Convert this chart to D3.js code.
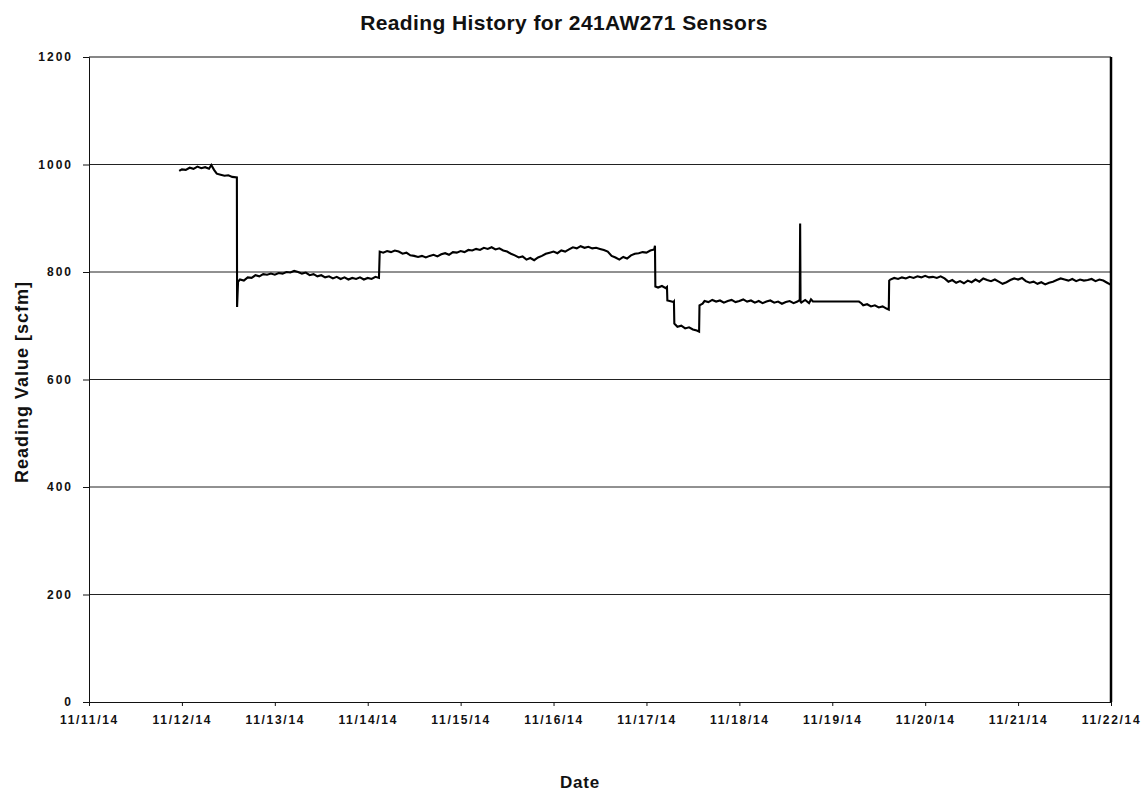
<!DOCTYPE html>
<html><head><meta charset="utf-8">
<script src="https://cdn.jsdelivr.net/npm/d3@7"></script>
<style>
html,body{margin:0;padding:0;background:#fff;}
text{font-family:"Liberation Sans",Arial,sans-serif;font-weight:bold;fill:#111;}
</style></head>
<body><svg id="c" width="1148" height="796"></svg>
<script>
const titleText = "Reading History for 241AW271 Sensors";
const xTitle = "Date";
const yTitle = "Reading Value [scfm]";
const yTicks = [0, 200, 400, 600, 800, 1000, 1200];
const xTickLabels = ["11/11/14","11/12/14","11/13/14","11/14/14","11/15/14","11/16/14","11/17/14","11/18/14","11/19/14","11/20/14","11/21/14","11/22/14"];
const startDate = "2014-11-11T00:00";
const endDate = "2014-11-22T00:00";
// hours since 11/11/14 00:00
const hours = [
 23.3,24,25,26,27,28,29,30,31,31.6,32.3,33,34,35,36,37,38.2,
 38.25,38.5,39,40,41,42,43,44,45,46,47,48,49,50,51,52,53,54,55,56,57,58,59,60,61,62,63,64,65,66,67,68,69,70,71,72,73,74,74.9,
 75.1,76,77,78,79,80,81,82,83,84,85,86,87,88,89,90,91,92,93,94,95,96,97,98,99,100,101,102,103,104,105,106,107,108,109,110,111,112,113,114,115,116,117,118,119,120,121,122,123,124,125,126,127,128,129,130,131,132,133,134,135,136,137,138,139,140,141,142,143,144,145,146,146.2,
 146.3,147,148,149,149.3,149.4,150,151,151.1,
 151.2,152,153,154,155,156,157,157.6,
 157.7,158.5,159,160,161,162,163,164,165,166,167,168,169,170,171,172,173,174,175,176,177,178,179,180,181,182,183,183.6,183.7,183.8,184,185,186,186.5,
 187,198.9,199.5,200,201,202,203,204,205,206,206.6,
 206.7,207,208,209,210,211,212,213,214,215,216,217,218,219,220,221,222,223,224,225,226,227,228,229,230,231,232,233,234,235,236,237,238,239,240,241,242,243,244,245,246,247,248,249,250,251,252,253,254,255,256,257,258,259,260,261,262,263,264
];
const values = [
 988,991,990,994,992,996,993,995,992,999,990,983,981,979,980,977,976,
 735,782,786,784,790,789,794,792,796,795,797,795,798,797,800,799,802,800,797,799,794,796,792,794,790,792,788,791,787,790,786,789,787,790,786,789,787,791,789,
 838,836,839,837,840,838,834,836,831,830,828,830,827,830,832,829,833,835,832,837,836,839,837,841,840,843,841,845,843,846,842,844,840,838,834,831,827,829,823,826,822,827,830,834,836,838,835,840,838,842,846,844,848,845,847,844,845,843,841,838,830,827,823,828,825,831,834,835,837,836,840,842,849,
 773,771,774,770,772,747,746,744,745,
 704,698,700,695,697,693,691,689,
 738,741,746,744,748,745,747,743,746,748,744,746,749,745,747,743,746,742,745,747,743,745,741,744,746,742,745,748,890,745,743,748,742,749,
 745,745,742,738,740,736,738,734,736,732,730,
 784,786,789,787,790,788,791,789,792,790,793,790,791,789,792,788,782,785,780,783,779,784,781,786,782,788,785,783,786,782,778,781,785,788,786,789,783,780,782,778,781,777,780,782,785,788,786,784,787,783,786,784,785,787,783,786,784,780,776
];

const W = 1148, H = 796;
const m = {left: 89, right: 1111, top: 57, bottom: 702};
const svg = d3.select("#c");
const t0 = new Date(startDate), t1 = new Date(endDate);
const x = d3.scaleTime().domain([t0, t1]).range([m.left, m.right]);
const y = d3.scaleLinear().domain([0, 1200]).range([m.bottom, m.top]);
const data = hours.map((h, i) => ({t: new Date(t0.getTime() + h * 3600e3), v: values[i]}));

// gridlines
svg.append("g").selectAll("line").data(yTicks.filter(v => v > 0 && v < 1200)).join("line")
  .attr("x1", m.left).attr("x2", m.right).attr("y1", d => y(d)).attr("y2", d => y(d))
  .attr("stroke", "#222").attr("stroke-width", 1);
// top border
svg.append("line").attr("x1", m.left).attr("x2", m.right).attr("y1", y(1200)).attr("y2", y(1200)).attr("stroke", "#111").attr("stroke-width", 1.2);
// right border
svg.append("line").attr("x1", m.right).attr("x2", m.right).attr("y1", m.top).attr("y2", m.bottom).attr("stroke", "#000").attr("stroke-width", 2.5);

// y axis
const yAxis = d3.axisLeft(y).tickValues(yTicks).tickSize(6).tickPadding(10).tickFormat(d3.format("d"));
const gy = svg.append("g").attr("transform", `translate(${m.left},0)`).call(yAxis);
gy.select(".domain").attr("stroke", "#111");
gy.selectAll(".tick line").attr("stroke", "#111");
gy.selectAll("text").attr("font-size", 12).attr("letter-spacing", "2px").attr("font-family", "Liberation Sans, Arial").attr("font-weight", "bold").attr("fill", "#111");

// x axis
const xTickDates = xTickLabels.map((_, i) => d3.timeDay.offset(t0, i));
const xAxis = d3.axisBottom(x).tickValues(xTickDates).tickSize(4).tickPadding(9).tickFormat((d, i) => xTickLabels[i]);
const gx = svg.append("g").attr("transform", `translate(0,${m.bottom})`).call(xAxis);
gx.select(".domain").attr("stroke", "#111");
gx.selectAll(".tick line").attr("stroke", "#111");
gx.selectAll("text").attr("font-size", 12).attr("letter-spacing", "1.7px").attr("font-family", "Liberation Sans, Arial").attr("font-weight", "bold").attr("fill", "#111");

// line
const line = d3.line().x(d => x(d.t)).y(d => y(d.v));
svg.append("path").datum(data).attr("d", line).attr("fill", "none").attr("stroke", "#000").attr("stroke-width", 2.1).attr("stroke-linejoin", "miter");

// titles
svg.append("text").attr("x", 564).attr("y", 30).attr("text-anchor", "middle").attr("font-size", 21).attr("letter-spacing", "0.4px").text(titleText);
svg.append("text").attr("x", 580).attr("y", 788).attr("text-anchor", "middle").attr("font-size", 17).attr("letter-spacing", "0.8px").text(xTitle);
svg.append("text").attr("transform", "translate(28,382) rotate(-90)").attr("text-anchor", "middle").attr("font-size", 18).attr("letter-spacing", "1px").text(yTitle);
</script></body></html>
